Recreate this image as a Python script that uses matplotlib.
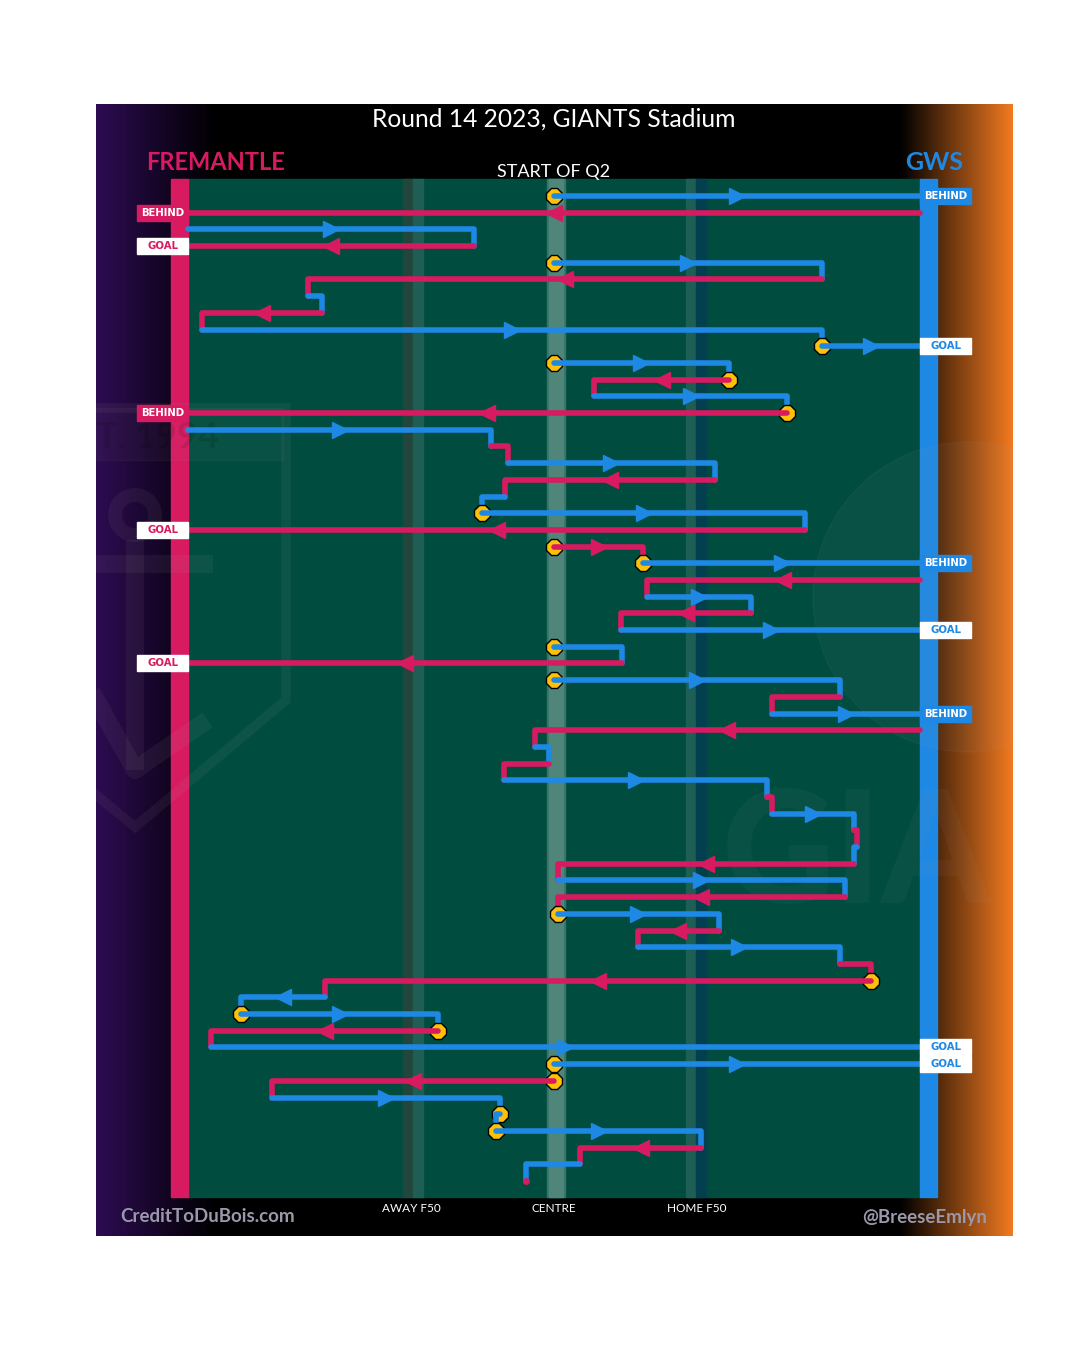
import numpy as np
import matplotlib.pyplot as plt
from matplotlib.patches import Rectangle, Ellipse, Polygon

# one row per possession, x is field position: 0 = Fremantle goal, 100 = GWS goal
TEAM = ['G', 'F', 'G', 'F', 'G', 'F', 'G', 'F', 'G', 'G',
        'G', 'F', 'G', 'F', 'G', 'F', 'G', 'F', 'G', 'G',
        'F', 'F', 'G', 'F', 'G', 'F', 'G', 'G', 'F', 'G',
        'F', 'G', 'F', 'G', 'F', 'G', 'F', 'G', 'F', 'G',
        'F', 'G', 'F', 'G', 'F', 'G', 'F', 'F', 'G', 'G',
        'F', 'G', 'G', 'F', 'G', 'G', 'G', 'F', 'G', 'F']
X_END = [100, 0, 39.1, 0, 86.6, 16.4, 18.3, 1.9, 86.6, 100,
         73.9, 55.5, 81.8, 0, 41.4, 43.7, 72.0, 43.3, 40.2, 84.3,
         0, 62.2, 100, 62.7, 76.9, 59.2, 100, 59.3, 0, 89.1,
         79.8, 100, 47.4, 49.3, 43.2, 79.1, 79.8, 91.0, 91.4, 91.0,
         50.5, 89.8, 50.5, 72.5, 61.5, 89.1, 93.3, 18.7, 7.2, 34.2,
         3.1, 100, 100, 11.5, 42.6, 42.1, 70.1, 53.6, 46.2, 46.2]
STOPPAGES = [0, 4, 9, 10, 11, 13, 19, 21, 22, 27, 29, 43, 47, 49, 50, 52, 53, 55, 56]
SCORES = {0: 'BEHIND', 1: 'BEHIND', 3: 'GOAL', 9: 'GOAL', 13: 'BEHIND', 20: 'GOAL',
          22: 'BEHIND', 26: 'GOAL', 28: 'GOAL', 31: 'BEHIND', 51: 'GOAL', 52: 'GOAL'}
ZONES = {'AWAY F50': 30.5, 'CENTRE': 50, 'HOME F50': 69.5}

PINK = '#d81b60'
BLUE = '#1e88e5'
COLORS = {'F': PINK, 'G': BLUE}
FIELD = '#004d40'
FONT = 'Lato'

# start of each row: centre bounce after a goal, otherwise where the last one ended
x_start = []
for i in range(len(TEAM)):
    if i == 0 or SCORES.get(i - 1) == 'GOAL':
        x_start.append(50.0)
    else:
        x_start.append(X_END[i - 1])


# pixel -> data helpers, only used for the frame and decorations
def ux(px):
    return (px - 188) / 7.32


def uy(px):
    return (px - 196) / 16.695


fig = plt.figure(figsize=(10.8, 13.55), dpi=100)
ax = fig.add_axes([96 / 1080, 1 - 1236 / 1355, (1013 - 96) / 1080, (1236 - 104) / 1355])
ax.axis('off')

# side gradient purple -> black -> orange
px = np.arange(96, 1013)
t_left = np.clip((215 - px) / 119, 0, 1)
t_right = np.clip((px - 900) / 113, 0, 1)
purple = np.array([45, 12, 82]) / 255
orange = np.array([244, 123, 32]) / 255
grad = t_left[:, None] * purple + t_right[:, None] * orange
ax.imshow(grad[None], extent=(ux(96), ux(1013), uy(1236), uy(104)), aspect='auto', zorder=0)

n = len(TEAM)
y_top, y_bot = -1.02, n - 0.04
h = y_bot - y_top
ax.add_patch(Rectangle((0, y_top), 100, h, color=FIELD, zorder=1))
# zone bands
ax.add_patch(Rectangle((29.4, y_top), 1.4, h, color='#22463c', zorder=1.2))
ax.add_patch(Rectangle((30.8, y_top), 1.3, h, color='#1e5e54', zorder=1.2))
ax.add_patch(Rectangle((49.0, y_top), 2.5, h, color='#37736a', zorder=1.2))
ax.add_patch(Rectangle((49.3, y_top), 1.9, h, color='#508679', zorder=1.3))
ax.add_patch(Rectangle((68.0, y_top), 1.4, h, color='#1e5e54', zorder=1.2))
ax.add_patch(Rectangle((69.4, y_top), 1.4, h, color='#02404f', zorder=1.2))
# goal lines
ax.add_patch(Rectangle((-2.32, y_top), 2.32, h, color=PINK, zorder=2))
ax.add_patch(Rectangle((100, y_top), 2.32, h, color=BLUE, zorder=2))

# faint club logos
wm = dict(color='#b0a0a0', alpha=0.08, zorder=2.5)
shield = [(ux(-19), uy(408)), (ux(286), uy(408)), (ux(286), uy(700)),
          (ux(135), uy(827)), (ux(-19), uy(700))]
ax.add_patch(Polygon(shield, closed=True, fill=False, lw=7, **wm))
ax.add_patch(Rectangle((ux(96), uy(460)), ux(283) - ux(96), uy(408) - uy(460),
                       color='#b0a0a0', alpha=0.05, zorder=2.5))
ax.text(ux(96), uy(437), 'T. 1994', fontsize=26, fontweight='bold', family=FONT,
        color='black', alpha=0.1, ha='left', va='center', zorder=2.6)
ax.plot([ux(135), ux(135)], [uy(540), uy(770)], lw=13, solid_capstyle='butt', **wm)
ax.plot([ux(96), ux(213)], [uy(564), uy(564)], lw=13, solid_capstyle='butt', **wm)
ax.plot([ux(96), ux(135), ux(200)], [uy(700), uy(770), uy(725)], lw=13, **wm)
ax.add_patch(Ellipse((ux(135), uy(515)), 40 / 7.32, 40 / 16.695, fill=False, lw=10, **wm))
ax.add_patch(Ellipse((ux(968), uy(597)), 310 / 7.32, 310 / 16.695,
                     color='#b0a0a0', alpha=0.06, zorder=2.5))
ax.text(ux(722), uy(858), 'GIA', fontsize=112, fontweight='black', family=FONT,
        color='#b0a0a0', alpha=0.06, ha='left', va='center', zorder=2.5)

# possession chain
for i in range(n):
    col = COLORS[TEAM[i]]
    xs, xe = x_start[i], X_END[i]
    z = 3 + 2 * i
    if i in STOPPAGES:
        ax.plot(xs, i, marker='8', ms=12, mfc='#ffc107', mec='black', mew=1, zorder=z - 1)
    if xs == xe and i == n - 1:
        ax.plot(xs, i, marker='o', ms=4, color=col, zorder=z)
        continue
    xx, yy = [xs, xe], [i, i]
    if i < n - 1 and i not in SCORES:
        xx.append(xe)
        yy.append(i + 1)
    ax.plot(xx, yy, color=col, lw=4, solid_capstyle='round', solid_joinstyle='round', zorder=z)
    if abs(xe - xs) > 10:
        ax.plot((xs + xe) / 2, i, marker='>' if xe > xs else '<', ms=11, color=col, zorder=z)

# score labels
for i, kind in SCORES.items():
    col = COLORS[TEAM[i]]
    x0 = ux(137) if TEAM[i] == 'F' else 100
    face, txt = (col, 'white') if kind == 'BEHIND' else ('white', col)
    ax.add_patch(Rectangle((x0, i - 0.48), 6.97, 0.96, color=face, zorder=200))
    ax.text(x0 + 3.5, i, kind, fontsize=7.3, fontweight='bold', color=txt,
            ha='center', va='center', zorder=201, family='DejaVu Sans')

# texts
ax.text(50, uy(119), 'Round 14 2023, GIANTS Stadium', fontsize=17.7, color='white',
        ha='center', va='center', family=FONT, zorder=300)
ax.text(ux(215), uy(163), 'FREMANTLE', fontsize=17, fontweight='bold', color=PINK,
        ha='center', va='center', family=FONT, zorder=300)
ax.text(ux(934), uy(163), 'GWS', fontsize=18, fontweight='bold', color=BLUE,
        ha='center', va='center', family=FONT, zorder=300)
ax.text(50, uy(172), 'START OF Q2', fontsize=13, color='white',
        ha='center', va='center', family=FONT, zorder=300)
for label, xpos in ZONES.items():
    ax.text(xpos, uy(1208), label, fontsize=8.5, color='white',
            ha='center', va='center', family=FONT, zorder=300)
ax.text(ux(208), uy(1217), 'CreditToDuBois.com', fontsize=13.5, fontweight='bold',
        color='#9a98aa', ha='center', va='center', family=FONT, zorder=300)
ax.text(ux(925), uy(1217), '@BreeseEmlyn', fontsize=13.5, fontweight='bold',
        color='#9a98aa', ha='center', va='center', family=FONT, zorder=300)

ax.set_xlim(ux(96), ux(1013))
ax.set_ylim(uy(1236), uy(104))

fig.savefig('out.png', dpi=100)
